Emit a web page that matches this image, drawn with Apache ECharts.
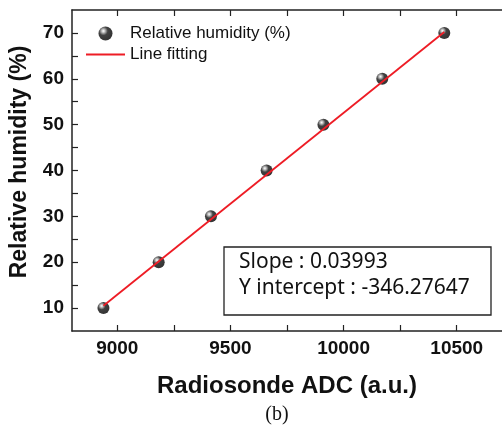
<!DOCTYPE html>
<html>
<head>
<meta charset="utf-8">
<script src="https://cdn.jsdelivr.net/npm/echarts@6/dist/echarts.min.js"></script>
<style>
  html, body { margin: 0; padding: 0; background: #fff; }
  #main { width: 502px; height: 429px; }
</style>
</head>
<body>
<div id="main"></div>
<script>
// measured points
var adcValues = [8939, 9183, 9414, 9660, 9911, 10171, 10445];
var humidity = [10, 20, 30, 40, 50, 60, 70];

// fitted line ends
var fitX = [8939, 10445];
var fitY = [10.5, 70.2];

// axis ticks
var xLabels = [9000, 9500, 10000, 10500];
var xTicks = [9000, 9250, 9500, 9750, 10000, 10250, 10500];
var yLabels = [10, 20, 30, 40, 50, 60, 70];
var yTicks = [10, 15, 20, 25, 30, 35, 40, 45, 50, 55, 60, 65, 70];

var boxLines = ['Slope : 0.03993', 'Y intercept : -346.27647'];

var axisColor = '#222';
var tickFont = {color: '#111', fontFamily: 'Liberation Sans, Arial', fontWeight: 'bold', fontSize: 19};

var chart = echarts.init(document.getElementById('main'));

var scatterData = adcValues.map(function (x, i) { return [x, humidity[i]]; });
var fitData = fitX.map(function (x, i) { return [x, fitY[i]]; });

var option = {
    animation: false,
    backgroundColor: '#fff',
    grid: {left: 72, top: 10, width: 433, height: 321},
    legend: {
        orient: 'vertical',
        left: 86,
        top: 25,
        padding: 0,
        itemWidth: 39,
        itemHeight: 14,
        itemGap: 4,
        textStyle: {fontFamily: 'Liberation Sans, Arial', fontSize: 17, color: '#111'},
        data: [
            {name: 'Relative humidity (%)'},
            {name: 'Line fitting', icon: 'path://M0,0 L40,0 L40,2 L0,2 Z'}
        ]
    },
    xAxis: [{
        type: 'value', position: 'bottom', min: 8800, max: 10700,
        splitLine: {show: false},
        axisLine: {show: true, lineStyle: {color: axisColor, width: 1.5}},
        axisTick: {show: true, inside: true, length: 6, customValues: xTicks, lineStyle: {color: axisColor, width: 1.2}},
        axisLabel: Object.assign({margin: 8, customValues: xLabels, formatter: function (v) { return String(v); }}, tickFont),
        name: 'Radiosonde ADC (a.u.)',
        nameLocation: 'middle',
        nameGap: 43,
        nameTextStyle: {fontFamily: 'Liberation Sans, Arial', fontWeight: 'bold', fontSize: 24, color: '#111'}
    }, {
        type: 'value', position: 'top', min: 8800, max: 10700,
        splitLine: {show: false},
        axisLine: {show: true, lineStyle: {color: axisColor, width: 1.5}},
        axisTick: {show: true, inside: true, length: 6, customValues: xTicks, lineStyle: {color: axisColor, width: 1.2}},
        axisLabel: {show: false}
    }],
    yAxis: [{
        type: 'value', position: 'left', min: 5, max: 75,
        splitLine: {show: false},
        axisLine: {show: true, lineStyle: {color: axisColor, width: 1.5}},
        axisTick: {show: true, inside: true, length: 6, customValues: yTicks, lineStyle: {color: axisColor, width: 1.2}},
        axisLabel: Object.assign({margin: 8, customValues: yLabels}, tickFont)
    }],
    graphic: [
        {
            type: 'text', x: 20, y: 162, rotation: Math.PI / 2,
            style: {text: 'Relative humidity (%)', font: 'bold 23px "Liberation Sans", Arial', fill: '#111', textAlign: 'center', textVerticalAlign: 'middle'}
        },
        {
            type: 'rect', shape: {x: 224, y: 247, width: 267, height: 68},
            style: {fill: '#fff', stroke: axisColor, lineWidth: 1.3}, z: 10
        },
        {
            type: 'text', x: 239, y: 262, z: 11,
            style: {text: boxLines[0], font: '21px "Noto Sans"', fill: '#111', textVerticalAlign: 'middle'}
        },
        {
            type: 'text', x: 239, y: 288, z: 11,
            style: {text: boxLines[1], font: '21px "Noto Sans"', fill: '#111', textVerticalAlign: 'middle'}
        },
        {
            type: 'text', x: 277, y: 415,
            style: {text: '(b)', font: '20px "Liberation Serif", "Times New Roman", serif', fill: '#111', textAlign: 'center', textVerticalAlign: 'middle'}
        }
    ],
    series: [{
        name: 'Relative humidity (%)',
        type: 'scatter',
        symbol: 'circle',
        symbolSize: 12,
        z: 2,
        itemStyle: {
            color: {
                type: 'radial', x: 0.35, y: 0.32, r: 0.7,
                colorStops: [
                    {offset: 0, color: '#ffffff'},
                    {offset: 0.15, color: '#bbb'},
                    {offset: 0.45, color: '#111'},
                    {offset: 1, color: '#000'}
                ]
            }
        },
        data: scatterData
    }, {
        name: 'Line fitting',
        type: 'line',
        symbol: 'none',
        z: 3,
        lineStyle: {color: '#ee1c25', width: 1.8},
        itemStyle: {color: '#ee1c25'},
        data: fitData
    }]
};

chart.setOption(option);
</script>
</body>
</html>
